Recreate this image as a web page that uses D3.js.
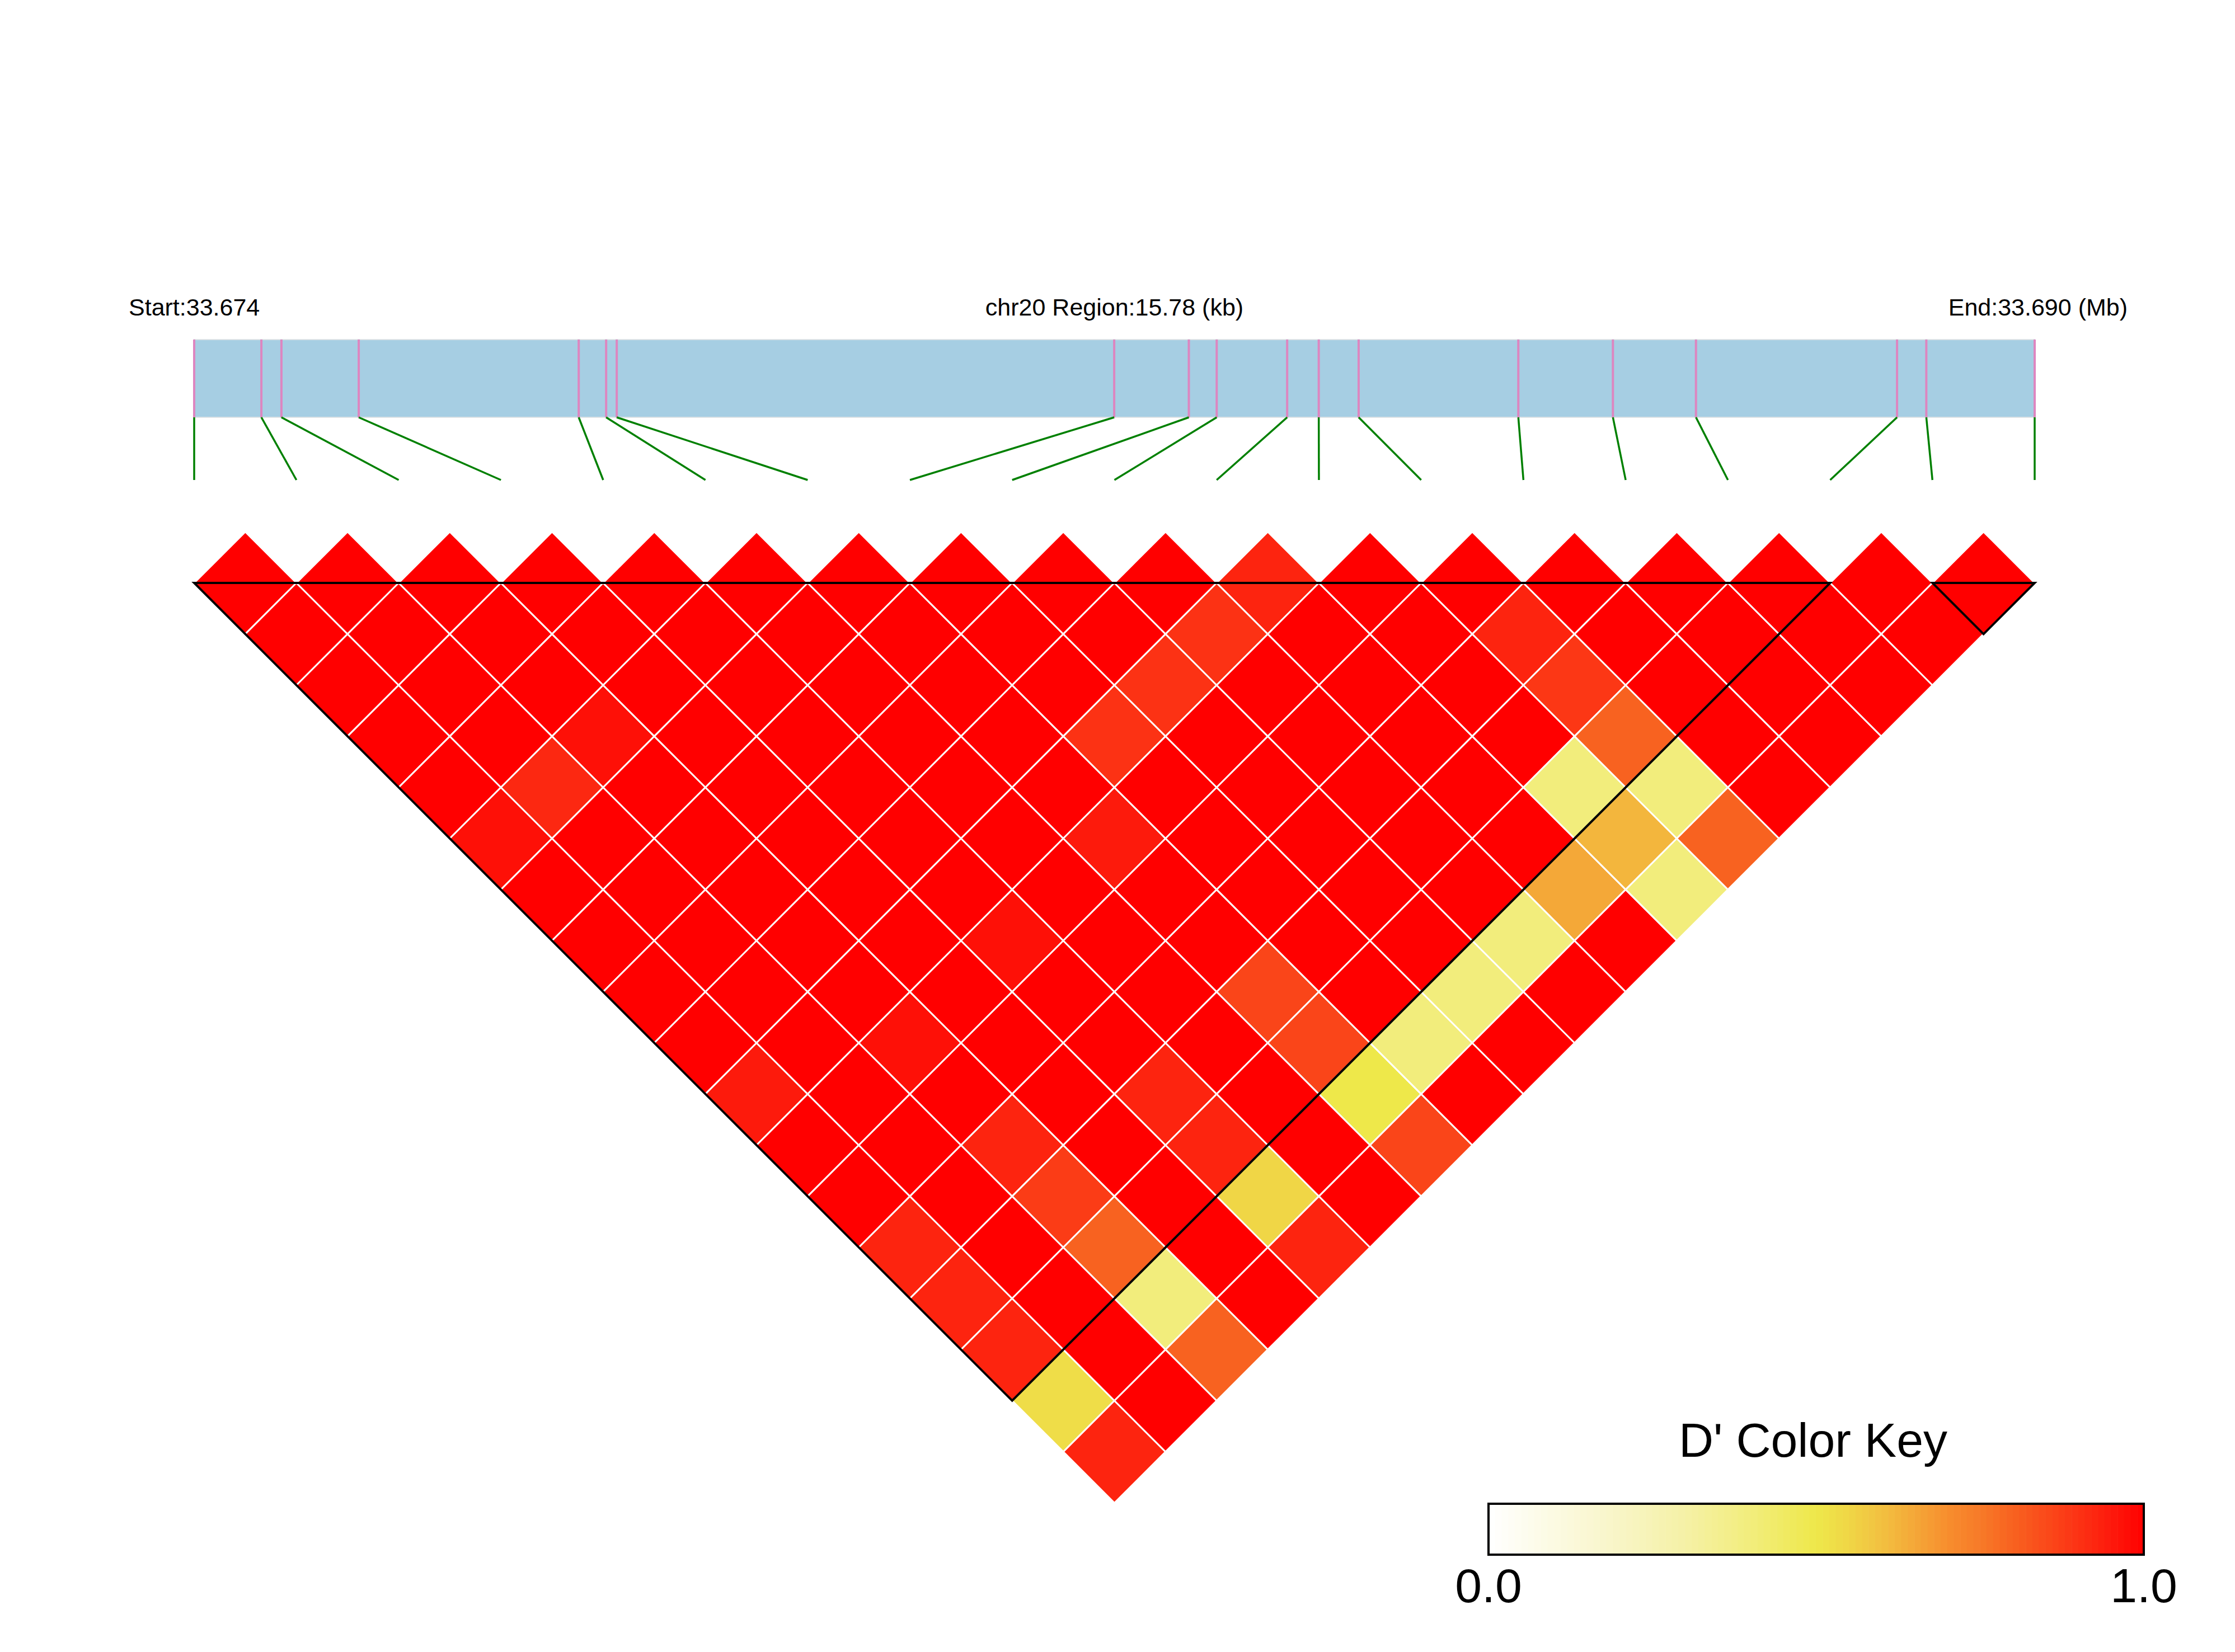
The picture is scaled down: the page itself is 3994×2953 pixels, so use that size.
<!DOCTYPE html>
<html>
<head>
<meta charset="utf-8">
<script src="https://cdn.jsdelivr.net/npm/d3@7/dist/d3.min.js"></script>
<style>
  body { margin: 0; background: #fff; }
  text { font-family: "Liberation Sans", Arial, sans-serif; fill: #000; }
</style>
</head>
<body>
<script>
// SNP physical positions (bp) on chr20
const chrom = 'chr20';
const regionStart = 33674100;
const regionEnd = 33689880;
const snpPos = [
  33674100, 33674676, 33674848, 33675511, 33677397, 33677632, 33677723,
  33681988, 33682628, 33682867, 33683471, 33683742, 33684084, 33685453,
  33686264, 33686976, 33688700, 33688951, 33689880
];

// pairwise D' : row i = SNP i against SNP i+1 ... last
const dPrime = [
  [1, 1, 1, 1, 1, 0.97, 1, 1, 1, 1, 0.95, 1, 1, 0.93, 0.93, 0.93, 0.53, 0.93],
  [1, 1, 1, 1, 0.92, 1, 1, 1, 1, 1, 1, 1, 1, 1, 1, 1, 1],
  [1, 1, 1, 0.97, 1, 1, 1, 1, 1, 0.97, 1, 0.93, 0.88, 0.80, 0.40, 0.80],
  [1, 1, 1, 1, 1, 1, 1, 1, 1, 1, 1, 1, 1, 1, 1],
  [1, 1, 1, 1, 1, 1, 1, 0.97, 1, 1, 0.93, 0.93, 0.55, 0.93],
  [1, 1, 1, 1, 1, 1, 1, 1, 1, 1, 1, 1, 1],
  [1, 1, 1, 1, 1, 0.95, 1, 1, 0.86, 0.86, 0.50, 0.86],
  [1, 1, 1, 0.90, 1, 1, 1, 1, 1, 0.40, 1],
  [1, 1, 0.90, 1, 1, 1, 1, 1, 0.40, 1],
  [1, 0.90, 1, 1, 1, 1, 1, 0.40, 1],
  [0.93, 1, 1, 1, 1, 1, 0.65, 1],
  [1, 1, 1, 1, 0.40, 0.62, 0.40],
  [1, 0.93, 0.89, 0.80, 0.40, 0.80],
  [1, 1, 1, 1, 1],
  [1, 1, 1, 1],
  [1, 1, 1],
  [1, 1],
  [1]
];

// LD blocks (first SNP index, last SNP index)
const ldBlocks = [[0, 16], [17, 18]];
const keyTicks = [0, 1];

const svgW = 3994;
const svgH = 2953;

const svg = d3.select('body')
              .append('svg')
              .attr('width', svgW)
              .attr('height', svgH);

svg.append('rect')
  .attr('width', svgW)
  .attr('height', svgH)
  .attr('fill', '#fff');

const left = 347;
const right = 3636;
const barTop = 607;
const barBottom = 746;
const linkBottom = 858;
const baseY = 1042; // top edge of the heatmap triangle

const xPos = d3.scaleLinear().domain([regionStart, regionEnd]).range([left, right]);
const xSnp = d3.scaleLinear().domain([0, snpPos.length - 1]).range([left, right]);
const half = (xSnp(1) - xSnp(0)) / 2;

// D' colour key: white -> yellow -> orange -> red
const color = d3.scaleLinear()
  .domain([0, 0.1, 0.2, 0.3, 0.4, 0.5, 0.55, 0.6, 0.65, 0.7, 0.75, 0.8, 0.85, 0.9, 0.95, 1])
  .range(['#ffffff', '#fcfae2', '#f8f5c6', '#f5f1a6', '#f2ed7c', '#eee84a', '#f0d646',
          '#f2c040', '#f4a838', '#f78e2e', '#f77a28', '#f86220', '#fa4a1a', '#fc3214',
          '#fd1a0c', '#ff0000'])
  .clamp(true);

// header texts
const fmtMb = d3.format('.3f');
svg.append('text')
  .attr('x', 230).attr('y', 564)
  .attr('font-size', 43)
  .text(`Start:${fmtMb(regionStart / 1e6)}`);
svg.append('text')
  .attr('x', (left + right) / 2).attr('y', 564)
  .attr('font-size', 43)
  .attr('text-anchor', 'middle')
  .text(`${chrom} Region:${d3.format('.2f')((regionEnd - regionStart) / 1000)} (kb)`);
svg.append('text')
  .attr('x', 3802).attr('y', 564)
  .attr('font-size', 43)
  .attr('text-anchor', 'end')
  .text(`End:${fmtMb(regionEnd / 1e6)} (Mb)`);

// gene map bar
svg.append('rect')
  .attr('x', left)
  .attr('y', barTop)
  .attr('width', right - left)
  .attr('height', barBottom - barTop)
  .attr('fill', '#a6cee3')
  .attr('stroke', '#dde3e6')
  .attr('stroke-width', 2);

svg.selectAll('line.snp')
  .data(snpPos)
  .enter()
  .append('line')
  .attr('class', 'snp')
  .attr('x1', d => xPos(d))
  .attr('x2', d => xPos(d))
  .attr('y1', barTop)
  .attr('y2', barBottom)
  .attr('stroke', '#dd86c0')
  .attr('stroke-width', 4);

svg.selectAll('line.link')
  .data(snpPos)
  .enter()
  .append('line')
  .attr('class', 'link')
  .attr('x1', d => xPos(d))
  .attr('y1', barBottom)
  .attr('x2', (d, i) => xSnp(i))
  .attr('y2', linkBottom)
  .attr('stroke', '#008000')
  .attr('stroke-width', 3.5);

// LD heatmap cells
const cells = [];
dPrime.forEach((row, i) => {
  row.forEach((d, k) => {
    cells.push({ i: i, j: i + 1 + k, d: d });
  });
});

const cellPath = c => {
  const xl = xSnp(c.i);
  const xr = xSnp(c.j);
  const cx = (xl + xr) / 2;
  const cy = baseY + (xr - xl) / 2 - half;
  return `M${cx},${cy - half}L${cx + half},${cy}L${cx},${cy + half}L${cx - half},${cy}Z`;
};

svg.append('g')
  .selectAll('path')
  .data(cells)
  .enter()
  .append('path')
  .attr('d', cellPath)
  .attr('fill', c => color(c.d))
  .attr('stroke', '#fff')
  .attr('stroke-width', 3);

// block outlines
svg.append('g')
  .selectAll('path')
  .data(ldBlocks)
  .enter()
  .append('path')
  .attr('d', b => {
    const xa = xSnp(b[0]);
    const xb = xSnp(b[1]);
    return `M${xa},${baseY}L${xb},${baseY}L${(xa + xb) / 2},${baseY + (xb - xa) / 2}Z`;
  })
  .attr('fill', 'none')
  .attr('stroke', '#000')
  .attr('stroke-width', 4)
  .attr('stroke-linejoin', 'miter');

// colour key
const keyX = d3.scaleLinear().domain([0, 1]).range([2660, 3831]);
const keyTop = 2688;
const keyH = 91;
const steps = d3.range(100).map(k => k / 100);

svg.append('text')
  .attr('x', 3240).attr('y', 2604)
  .attr('font-size', 86)
  .attr('text-anchor', 'middle')
  .text("D' Color Key");

svg.append('g')
  .selectAll('rect')
  .data(steps)
  .enter()
  .append('rect')
  .attr('x', d => keyX(d))
  .attr('y', keyTop)
  .attr('width', keyX(0.01) - keyX(0) + 0.6)
  .attr('height', keyH)
  .attr('fill', d => color(d + 0.005));

svg.append('rect')
  .attr('x', keyX(0))
  .attr('y', keyTop)
  .attr('width', keyX(1) - keyX(0))
  .attr('height', keyH)
  .attr('fill', 'none')
  .attr('stroke', '#000')
  .attr('stroke-width', 4);

svg.selectAll('text.keytick')
  .data(keyTicks)
  .enter()
  .append('text')
  .attr('class', 'keytick')
  .attr('x', d => keyX(d))
  .attr('y', 2864)
  .attr('font-size', 86)
  .attr('text-anchor', 'middle')
  .text(d => d3.format('.1f')(d));
</script>
</body>
</html>
